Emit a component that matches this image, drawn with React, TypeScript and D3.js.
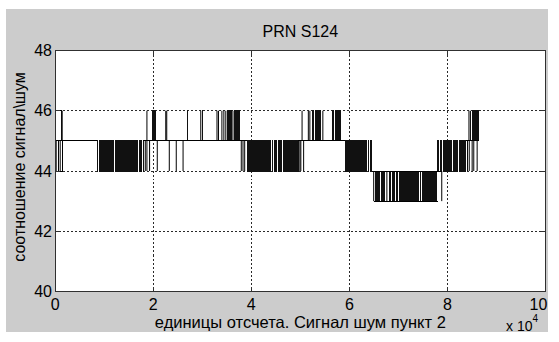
import React from 'react';
import * as d3 from 'd3';

const W = 559;
const H = 342;

const title = 'PRN S124';
const xLabel = 'единицы отсчета. Сигнал шум пункт 2';
const yLabel = 'соотношение сигнал\\шум';
const xTicks = [0, 2, 4, 6, 8, 10]; // x 10^4 samples
const yTicks = [40, 42, 44, 46, 48];
const xGrid = [2, 4, 6, 8];
const yGrid = [42, 44, 46];

// Stretches where the SNR rests on one level: [fromSample, toSample, dB]
const holds: [number, number, number][] = [
  [0, 1300, 46],
  [0, 1490, 44],
  [0, 8500, 45],
  [18000, 39120, 45],
  [49490, 59180, 45],
  [64630, 78840, 44],
  [64960, 78000, 43],
  [83800, 86400, 45],
];

// Stretches where the SNR flips between two adjacent levels on almost every sample:
// [fromSample, toSample, lower dB, upper dB]
const bursts: [number, number, number, number][] = [
  // 44 / 45
  [8500, 8780, 44, 45], [8900, 12080, 44, 45], [12200, 16940, 44, 45], [17060, 17700, 44, 45], [17820, 18150, 44, 45],
  [39120, 43950, 44, 45], [44200, 44480, 44, 45], [44700, 45200, 44, 45], [45450, 46280, 44, 45], [46500, 49650, 44, 45],
  [59180, 63500, 44, 45], [63720, 64030, 44, 45], [64250, 64630, 44, 45],
  [77960, 78270, 44, 45], [78470, 78940, 44, 45], [79140, 80860, 44, 45], [81060, 82200, 44, 45], [82400, 83800, 44, 45],
  // 43 / 44
  [65310, 65570, 43, 44], [65710, 66220, 43, 44], [66370, 67350, 43, 44],
  [68020, 68530, 43, 44], [68730, 69330, 43, 44], [69450, 70000, 43, 44], [70120, 74140, 43, 44],
  [74410, 74690, 43, 44], [74820, 75800, 43, 44], [75920, 77960, 43, 44],
  // 45 / 46
  [19690, 20610, 45, 46], [26900, 27150, 45, 46], [30000, 30200, 45, 46],
  [35040, 36060, 45, 46], [36550, 37600, 45, 46],
  [52390, 52860, 45, 46], [52980, 53330, 45, 46], [53470, 54290, 45, 46],
  [56430, 56860, 45, 46], [57000, 57390, 45, 46], [57510, 58370, 45, 46],
  [85000, 85350, 45, 46], [85470, 86390, 45, 46],
];

// Isolated level changes: [sample, lower dB, upper dB]
const hops: [number, number, number][] = [
  [200, 44, 45], [670, 44, 45], [1020, 44, 45], [1490, 44, 45],
  [1300, 45, 46], [1420, 45, 46],
  [18370, 44, 45], [18710, 44, 45], [19250, 44, 45],
  [18710, 45, 46],
  [20820, 44, 45], [23270, 44, 45], [24690, 44, 45], [26080, 44, 45],
  [22550, 45, 46], [22750, 45, 46], [29690, 45, 46],
  [33000, 45, 46], [33300, 45, 46], [34000, 45, 46], [34400, 45, 46], [34800, 45, 46],
  [36250, 45, 46],
  [37950, 44, 45], [38300, 44, 45], [38650, 44, 45],
  [49900, 44, 45], [50100, 44, 45], [50670, 44, 45],
  [50350, 45, 46], [51630, 45, 46], [51940, 45, 46], [54590, 45, 46],
  [64960, 43, 44], [67650, 43, 44], [78840, 43, 44],
  [84100, 44, 45], [84450, 44, 45], [85040, 44, 45], [85370, 44, 45], [86060, 44, 45],
  [84390, 45, 46], [84690, 45, 46],
];

const FONT = "'Liberation Sans', Arial, Helvetica, sans-serif";

export default function App() {
  const left = 55.2;
  const right = 545.5;
  const top = 50.5;
  const bottom = 291.5;

  const xs = d3.scaleLinear().domain([0, 100000]).range([left, right]);
  const xt = d3.scaleLinear().domain([0, 10]).range([left, right]);
  const ys = d3.scaleLinear().domain([40, 48]).range([bottom, top]);

  const tickLen = 5;

  return (
    <svg
      width={W}
      height={H}
      style={{ position: 'absolute', left: 0, top: 0, background: '#fff' }}
      fontFamily={FONT}
    >
      <rect x={6} y={9} width={542} height={323} fill="#cccccc" />
      <rect x={left} y={top} width={right - left} height={bottom - top} fill="#fff" />

      {/* grid */}
      <g stroke="#2a2a2a" strokeWidth={1} strokeDasharray="2,2" shapeRendering="crispEdges">
        {xGrid.map((v) => (
          <line key={'gx' + v} x1={xt(v)} x2={xt(v)} y1={top} y2={bottom} />
        ))}
        {yGrid.map((v) => (
          <line key={'gy' + v} x1={left} x2={right} y1={ys(v)} y2={ys(v)} />
        ))}
      </g>

      {/* SNR trace */}
      <g fill="#111">
        {bursts.map(([a, b, lo, hi], i) => (
          <rect
            key={'b' + i}
            x={xs(a)}
            width={xs(b) - xs(a)}
            y={ys(hi) - 0.5}
            height={ys(lo) - ys(hi) + 1}
            shapeRendering="crispEdges"
          />
        ))}
      </g>
      <g stroke="#000" strokeWidth={1} shapeRendering="crispEdges">
        {holds.map(([a, b, v], i) => (
          <line key={'h' + i} x1={xs(a)} x2={xs(b)} y1={ys(v)} y2={ys(v)} />
        ))}
      </g>
      <g stroke="#000" strokeWidth={1}>
        {hops.map(([s, lo, hi], i) => (
          <line key={'p' + i} x1={xs(s)} x2={xs(s)} y1={ys(lo)} y2={ys(hi)} />
        ))}
      </g>

      {/* axes box and inward ticks */}
      <g stroke="#303030" strokeWidth={1} shapeRendering="crispEdges" fill="none">
        <rect x={left} y={top} width={right - left} height={bottom - top} />
        {xTicks.map((v) => (
          <g key={'tx' + v}>
            <line x1={xt(v)} x2={xt(v)} y1={bottom} y2={bottom - tickLen} />
            <line x1={xt(v)} x2={xt(v)} y1={top} y2={top + tickLen} />
          </g>
        ))}
        {yTicks.map((v) => (
          <g key={'ty' + v}>
            <line x1={left} x2={left + tickLen} y1={ys(v)} y2={ys(v)} />
            <line x1={right} x2={right - tickLen} y1={ys(v)} y2={ys(v)} />
          </g>
        ))}
      </g>

      {/* tick labels */}
      <g fontSize={16} fill="#000">
        {xTicks.map((v, i) => (
          <text
            key={'lx' + v}
            x={xt(v) - (i === xTicks.length - 1 ? 7 : 0)}
            y={310}
            textAnchor="middle"
          >
            {v}
          </text>
        ))}
        {yTicks.map((v) => (
          <text key={'ly' + v} x={52} y={ys(v) + 5.5} textAnchor="end">
            {v}
          </text>
        ))}
      </g>

      {/* exponent of the x axis */}
      <text x={506} y={331} fontSize={14} fill="#000">
        x 10
      </text>
      <text x={532.5} y={322} fontSize={10} fill="#000">
        4
      </text>

      {/* titles */}
      <text x={(left + right) / 2} y={37} textAnchor="middle" fontSize={16} fill="#000">
        {title}
      </text>
      <text x={(left + right) / 2} y={328} textAnchor="middle" fontSize={16.5} fill="#000">
        {xLabel}
      </text>
      <text
        transform="translate(25,167) rotate(-90)"
        textAnchor="middle"
        fontSize={16}
        fill="#000"
      >
        {yLabel}
      </text>
    </svg>
  );
}
